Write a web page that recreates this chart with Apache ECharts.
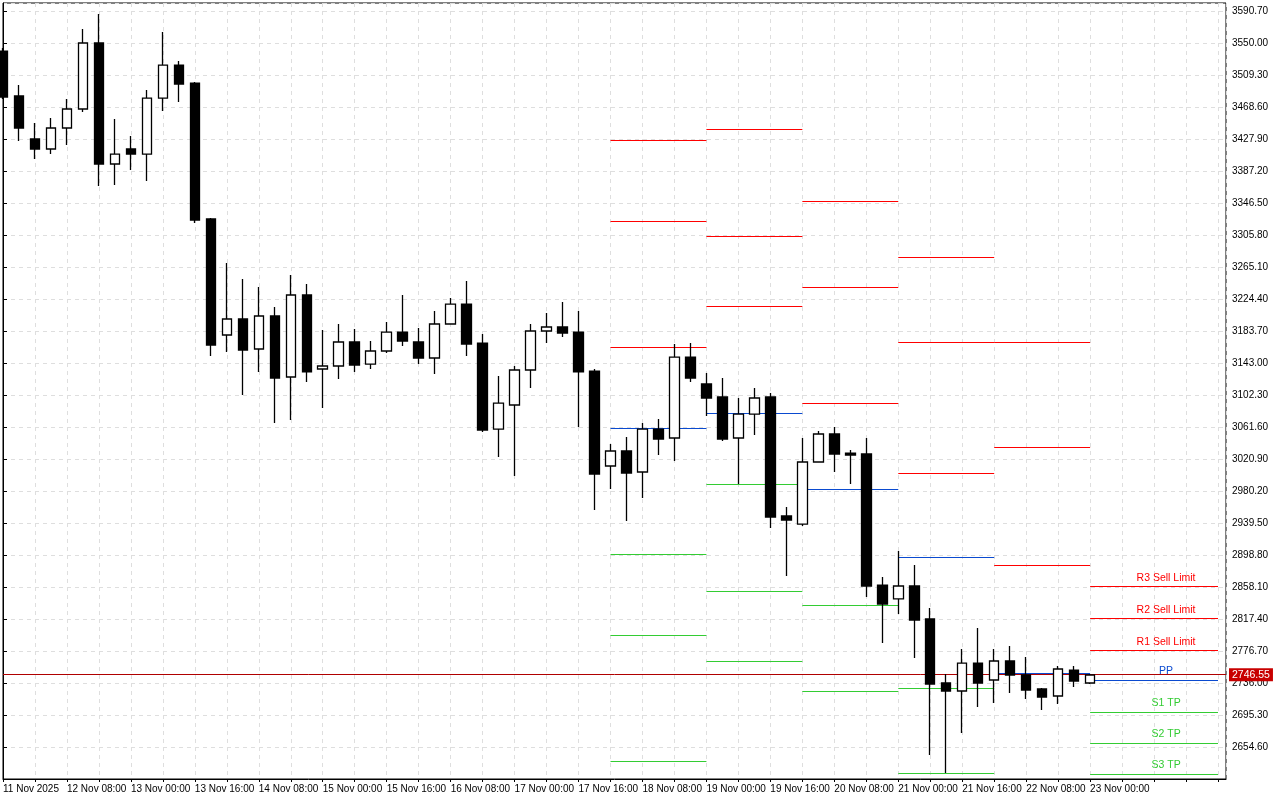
<!DOCTYPE html>
<html><head><meta charset="utf-8">
<script src="https://cdn.jsdelivr.net/npm/echarts@6/dist/echarts.min.js"></script>
<style>html,body{margin:0;padding:0;background:#fff}#c{width:1280px;height:800px}</style>
</head><body><div id="c"></div>
<script>
// candles: [open, close, low, high], 4-hour bars from 11 Nov 16:00 to 23 Nov 00:00
const candles = [
[3539.8,3481.3,3478.8,3543.6],[3482.6,3441.9,3425.4,3496.6],[3427.9,3415.2,3402.5,3448.3],[3415.2,3441.9,3408.8,3454.6],
[3441.9,3466.1,3420.3,3478.8],[3466.1,3550.0,3462.2,3567.8],[3550.0,3396.1,3368.1,3586.9],[3396.1,3408.8,3369.4,3453.3],
[3415.2,3408.8,3388.5,3431.7],[3408.8,3480.0,3374.5,3490.2],[3480.0,3522.0,3463.5,3564.0],[3522.0,3497.9,3475.0,3527.1],
[3499.1,3324.9,3321.1,3500.4],[3326.2,3165.9,3151.9,3327.4],[3178.6,3199.0,3157.0,3270.2],[3199.0,3159.5,3102.3,3249.8],
[3160.8,3202.8,3131.6,3239.7],[3202.8,3123.9,3066.7,3214.2],[3125.2,3229.5,3070.5,3254.9],[3229.5,3131.6,3118.8,3243.5],
[3135.4,3139.2,3085.8,3185.0],[3139.2,3169.7,3122.7,3192.6],[3169.7,3140.5,3131.6,3186.2],[3141.7,3158.3,3135.4,3171.0],
[3158.3,3182.4,3155.7,3195.2],[3182.4,3171.0,3164.6,3229.5],[3169.7,3149.4,3141.7,3187.5],[3149.4,3192.6,3129.0,3209.1],
[3192.6,3218.0,3192.6,3225.7],[3218.0,3167.2,3151.9,3247.3],[3168.4,3057.8,3055.2,3179.9],[3059.0,3092.1,3023.4,3126.5],
[3089.6,3134.1,2999.3,3139.2],[3134.1,3183.7,3111.2,3192.6],[3183.7,3188.8,3168.4,3206.6],[3188.8,3181.2,3176.1,3220.6],
[3182.4,3131.6,3061.6,3209.1],[3132.8,3001.8,2956.0,3135.4],[3012.0,3031.1,2982.7,3040.0],[3031.1,3003.1,2942.0,3048.9],
[3004.4,3059.0,2971.3,3066.7],[3059.0,3046.3,3026.0,3071.8],[3047.6,3150.6,3018.4,3167.2],[3150.6,3123.9,3118.8,3168.4],
[3116.3,3098.5,3075.6,3130.3],[3099.8,3046.3,3043.8,3123.9],[3047.6,3078.1,2989.1,3098.5],[3078.1,3098.5,3051.4,3111.2],
[3099.8,2947.1,2933.1,3104.9],[2948.4,2943.3,2872.1,2959.8],[2938.2,3017.1,2935.7,3047.6],[3017.1,3052.7,3017.1,3056.5],
[3052.7,3027.3,3004.4,3061.6],[3028.5,3026.0,2989.1,3032.3],[3027.3,2859.4,2845.4,3047.6],[2860.6,2836.5,2786.9,2870.8],
[2842.9,2859.4,2823.7,2903.9],[2859.4,2816.1,2767.8,2886.1],[2817.4,2734.7,2644.4,2831.4],[2736.0,2725.8,2621.5,2747.4],
[2725.8,2761.4,2672.4,2779.2],[2761.4,2736.0,2705.5,2805.9],[2739.8,2764.0,2710.6,2779.2],[2764.0,2746.2,2723.3,2783.1],
[2746.2,2727.1,2715.7,2769.1],[2728.4,2718.2,2701.7,2729.6],[2719.5,2753.8,2709.3,2757.6],[2752.5,2738.5,2730.9,2757.6],
[2736.0,2746.2,2734.7,2747.4]
];
const tickLabels = ['11 Nov 2025','12 Nov 08:00','13 Nov 00:00','13 Nov 16:00','14 Nov 08:00','15 Nov 00:00','15 Nov 16:00',
 '16 Nov 08:00','17 Nov 00:00','17 Nov 16:00','18 Nov 08:00','19 Nov 00:00','19 Nov 16:00','20 Nov 08:00','21 Nov 00:00',
 '21 Nov 16:00','22 Nov 08:00','23 Nov 00:00'];
// daily pivot segments (bar index start/end)
const dayStart = [38,44,50,56,62,68];
const dayEnd   = [44,50,56,62,68,76];
const R3 = [3426.6,3440.6,3349.0,3277.8,3169.7,2858.6];
const R2 = [3323.6,3304.5,3239.7,3169.7,3036.0,2817.9];
const R1 = [3163.4,3215.5,3092.1,3003.1,2885.6,2777.2];
const PP = [3060.3,3079.4,2982.7,2896.3,2748.8,2739.8];
const S1 = [2900.1,2989.1,2835.2,2729.6,null,2699.1];
const S2 = [2797.1,2853.0,2725.8,2621.5,null,2659.7];
const S3 = [2636.8,2764.0,null,null,null,2620.2];
const currentPrice = 2746.55;

const RED='#ff0000', BLUE='#0a4ad0', GREEN='#33cc33';
const levels = [
 {name:'R3',vals:R3,color:RED,label:'R3 Sell Limit'},
 {name:'R2',vals:R2,color:RED,label:'R2 Sell Limit'},
 {name:'R1',vals:R1,color:RED,label:'R1 Sell Limit'},
 {name:'PP',vals:PP,color:BLUE,label:'PP'},
 {name:'S1',vals:S1,color:GREEN,label:'S1 TP'},
 {name:'S2',vals:S2,color:GREEN,label:'S2 TP'},
 {name:'S3',vals:S3,color:GREEN,label:'S3 TP'}
];
const FONT='Liberation Sans, Arial, sans-serif';
const series = [{
  type:'candlestick',
  data: candles.map((c,i)=>[i].concat(c)),
  encode:{x:0,y:[1,2,3,4]},
  barWidth:10,
  itemStyle:{color:'#ffffff',color0:'#000000',borderColor:'#000000',borderColor0:'#000000',borderWidth:1.3},
  z:5,
  markLine:{silent:true,symbol:'none',
    lineStyle:{color:'#b00000',width:1,type:'solid'},
    label:{show:true,position:'end',distance:3,formatter:v=>currentPrice.toFixed(2),
      backgroundColor:'#c80000',color:'#ffffff',fontSize:10.5,fontFamily:FONT,padding:[1,3,1,3]},
    data:[{yAxis:currentPrice}]}
}];
levels.forEach(lv=>{
  const segs=[];
  lv.vals.forEach((v,d)=>{
    if(v===null) return;
    const last = d===lv.vals.length-1;
    segs.push([{coord:[dayStart[d],v],label:{show:last,formatter:lv.label,position:'insideMiddleTop',
      color:lv.color,fontSize:10.5,fontFamily:FONT,distance:3,padding:[0,0,0,24]}},{coord:[dayEnd[d],v]}]);
  });
  series.push({type:'line',name:lv.name,data:[],z:3,
    markLine:{silent:true,symbol:'none',animation:false,lineStyle:{color:lv.color,width:1,type:'solid'},data:segs}});
});

const chart = echarts.init(document.getElementById('c'));
chart.setOption({
  animation:false,
  backgroundColor:'#ffffff',
  grid:{left:2,top:3,right:54,bottom:21,show:true,borderColor:'#000',borderWidth:1,backgroundColor:'transparent'},
  xAxis:{type:'value',min:0,max:76.5,interval:2,
    axisLine:{show:true,lineStyle:{color:'#000'}},
    axisTick:{show:true,length:3,lineStyle:{color:'#000'}},
    axisLabel:{color:'#000',fontSize:10,fontFamily:FONT,align:'left',margin:5,showMaxLabel:false,
      formatter:v=>(Number.isInteger(v)&&v%4===0&&tickLabels[v/4])?tickLabels[v/4]:''},
    splitLine:{show:true,lineStyle:{color:'#dedede',type:[4,4]}}},
  yAxis:{type:'value',position:'right',min:2613.9,max:3600.9,interval:40.7,
    axisLine:{show:true,lineStyle:{color:'#000'}},
    axisTick:{show:true,length:4,inside:false,lineStyle:{color:'#000'}},
    axisLabel:{color:'#000',fontSize:10,fontFamily:FONT,margin:6,showMinLabel:false,showMaxLabel:false,
      formatter:v=>v.toFixed(2)},
    splitLine:{show:true,lineStyle:{color:'#dedede',type:[4,4]}}},
  series
});
</script></body></html>
